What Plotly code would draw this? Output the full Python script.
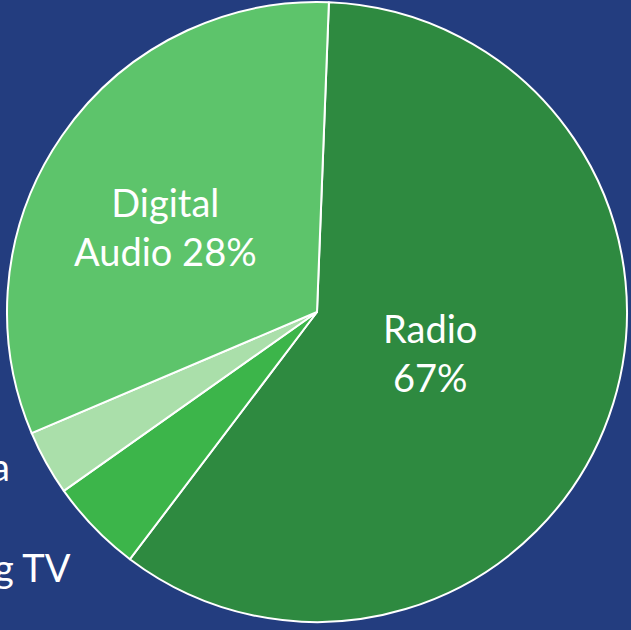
import plotly.graph_objects as go

# Data
categories = ["Radio", "Streaming TV", "Social Media", "Digital Audio"]
share = [59.7, 4.9, 3.4, 32.0]          # slice sizes as drawn
printed_pct = [67, None, None, 28]      # percentages as printed on the slices
slice_colors = ["#2E8A40", "#3CB54A", "#AADFAA", "#5DC46B"]

W, H = 631, 630
BG = "#233D7F"
FONT = dict(family="Lato", size=38, color="white")

fig = go.Figure()
fig.add_trace(go.Pie(
    labels=categories,
    values=share,
    textinfo="none",
    sort=False,
    direction="clockwise",
    rotation=2.2,
    marker=dict(colors=slice_colors, line=dict(color="white", width=2)),
    domain=dict(x=[7 / W, 627 / W], y=[8 / H, 628 / H]),
    showlegend=False,
    hoverinfo="label+percent",
))

# labels: (text, x px, y px, xanchor)
labels = [
    (f"{categories[0]}<br>{printed_pct[0]}%", 430, 352, "center"),
    (f"Digital<br>Audio {printed_pct[3]}%", 165, 226, "center"),
    (categories[2], 12, 466, "right"),
    (categories[1], 73, 567, "right"),
]
for txt, px, py, xa in labels:
    fig.add_annotation(
        text=txt, x=px / W, y=1 - py / H, xref="paper", yref="paper",
        xanchor=xa, yanchor="middle", showarrow=False, font=FONT,
    )

fig.update_layout(
    width=W, height=H,
    margin=dict(l=0, r=0, t=0, b=0),
    paper_bgcolor=BG, plot_bgcolor=BG,
)

fig.write_html("out.html")
